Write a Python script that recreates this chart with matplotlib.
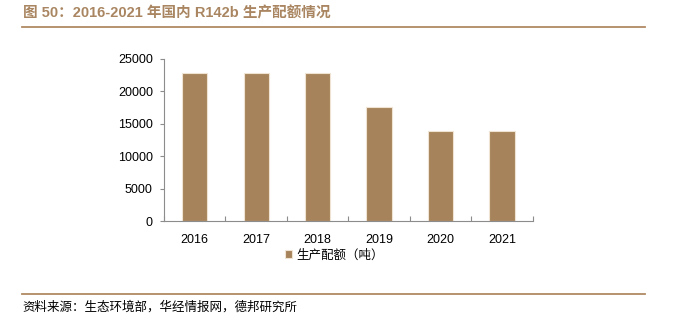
import matplotlib
matplotlib.use("Agg")
import matplotlib.pyplot as plt
from matplotlib.lines import Line2D

plt.rcParams['font.family'] = ['Liberation Sans', 'Noto Sans CJK SC', 'DejaVu Sans']

# data
years = ['2016', '2017', '2018', '2019', '2020', '2021']
quota = [22890, 22890, 22890, 17600, 13860, 13860]
series_name = '生产配额（吨）'
y_ticks = [0, 5000, 10000, 15000, 20000, 25000]

title = '图 50：2016-2021 年国内 R142b 生产配额情况'
source = '资料来源：生态环境部，华经情报网，德邦研究所'

bar_color = '#A6835A'
brown = '#A98661'
axis_gray = '#8C8C8C'

fig = plt.figure(figsize=(6.73, 3.29), dpi=100)
ax = fig.add_axes([164 / 673, 1 - 221.3 / 329, (532.7 - 164) / 673, (221.3 - 59) / 329])

x = range(len(years))
ax.bar(x, quota, width=0.41, color=bar_color, edgecolor='#EFE4D4', linewidth=0.8,
       label=series_name, zorder=2)

ax.set_xlim(-0.5, len(years) - 0.5)
ax.set_ylim(0, 25000)
ax.set_yticks(y_ticks)
ax.set_yticklabels([str(v) for v in y_ticks])
ax.set_xticks(x)
ax.set_xticklabels(years)
# x ticks sit at category boundaries
ax.set_xticks([i + 0.5 for i in range(-1, len(years))], minor=True)
ax.tick_params(axis='x', which='major', length=0, pad=9, labelsize=9, labelcolor='black')
ax.tick_params(axis='x', which='minor', direction='in', length=3.5, color=axis_gray, width=0.8)
ax.tick_params(axis='y', length=3, pad=5, labelsize=9, color=axis_gray, width=0.8)

for s in ['top', 'right']:
    ax.spines[s].set_visible(False)
for s in ['left', 'bottom']:
    ax.spines[s].set_color(axis_gray)
    ax.spines[s].set_linewidth(0.8)

fig.legend(loc='center', bbox_to_anchor=(334 / 673, 1 - 255 / 329), frameon=False,
           handlelength=0.55, handleheight=0.55, handletextpad=0.35,
           prop={'family': ['Noto Sans CJK SC'], 'size': 9})

# header and footer
fig.text(23 / 673, 1 - 13.5 / 329, title, color=brown, fontsize=10.5, fontweight='bold',
         va='center', ha='left')
fig.add_artist(Line2D([22 / 673, 645 / 673], [1 - 27 / 329, 1 - 27 / 329],
                      color='#B08A64', linewidth=1.3))
fig.add_artist(Line2D([22 / 673, 645 / 673], [1 - 294 / 329, 1 - 294 / 329],
                      color='#B08A64', linewidth=1.3))
fig.text(22 / 673, 1 - 307 / 329, source, color='black', fontsize=9,
         family=['Noto Sans CJK SC'], va='center', ha='left')

fig.savefig('out.png', dpi=100)
